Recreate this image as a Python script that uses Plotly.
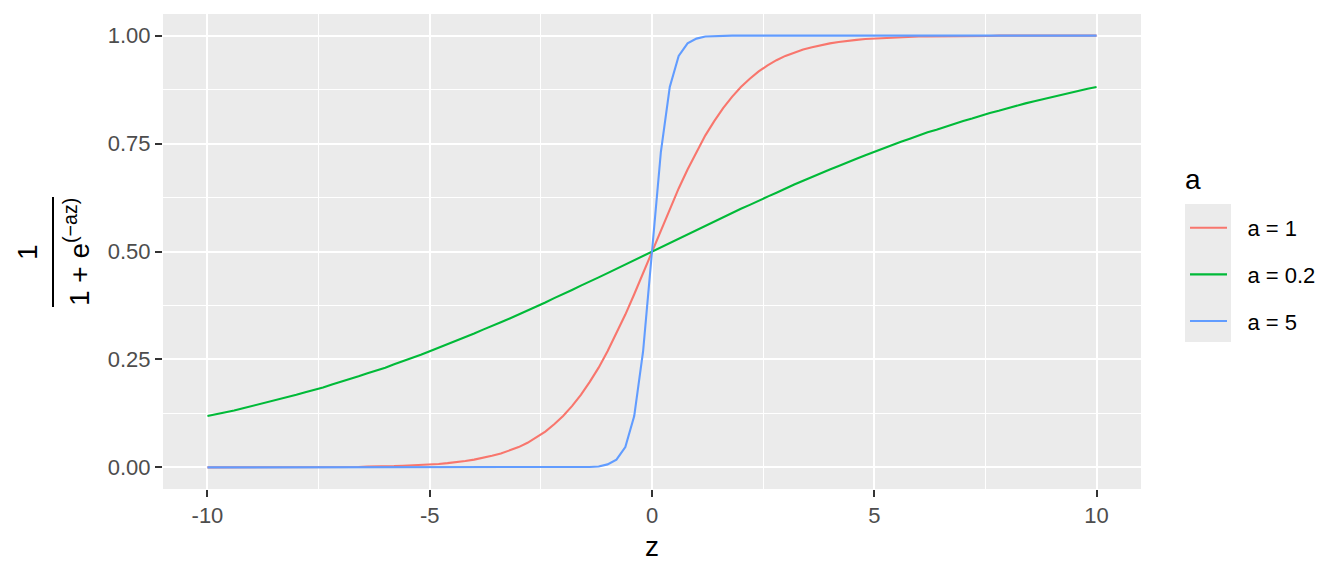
import plotly.graph_objects as go

# z grid (101 points, -10 .. 10, step 0.2)
z = [-10.0, -9.8, -9.6, -9.4, -9.2, -9.0, -8.8, -8.6, -8.4, -8.2,
     -8.0, -7.8, -7.6, -7.4, -7.2, -7.0, -6.8, -6.6, -6.4, -6.2,
     -6.0, -5.8, -5.6, -5.4, -5.2, -5.0, -4.8, -4.6, -4.4, -4.2,
     -4.0, -3.8, -3.6, -3.4, -3.2, -3.0, -2.8, -2.6, -2.4, -2.2,
     -2.0, -1.8, -1.6, -1.4, -1.2, -1.0, -0.8, -0.6, -0.4, -0.2,
     0.0,
     0.2, 0.4, 0.6, 0.8, 1.0, 1.2, 1.4, 1.6, 1.8, 2.0,
     2.2, 2.4, 2.6, 2.8, 3.0, 3.2, 3.4, 3.6, 3.8, 4.0,
     4.2, 4.4, 4.6, 4.8, 5.0, 5.2, 5.4, 5.6, 5.8, 6.0,
     6.2, 6.4, 6.6, 6.8, 7.0, 7.2, 7.4, 7.6, 7.8, 8.0,
     8.2, 8.4, 8.6, 8.8, 9.0, 9.2, 9.4, 9.6, 9.8, 10.0]

# a = 1
y_a1 = [0.000, 0.000, 0.000, 0.000, 0.000, 0.000, 0.000, 0.000, 0.000, 0.000,
        0.000, 0.000, 0.001, 0.001, 0.001, 0.001, 0.001, 0.001, 0.002, 0.002,
        0.002, 0.003, 0.004, 0.005, 0.005, 0.007, 0.008, 0.010, 0.012, 0.015,
        0.018, 0.022, 0.027, 0.032, 0.039, 0.047, 0.057, 0.069, 0.083, 0.100,
        0.119, 0.142, 0.168, 0.198, 0.231, 0.269, 0.310, 0.354, 0.401, 0.450,
        0.500,
        0.550, 0.599, 0.646, 0.690, 0.731, 0.769, 0.802, 0.832, 0.858, 0.881,
        0.900, 0.917, 0.931, 0.943, 0.953, 0.961, 0.968, 0.973, 0.978, 0.982,
        0.985, 0.988, 0.990, 0.992, 0.993, 0.995, 0.995, 0.996, 0.997, 0.998,
        0.998, 0.998, 0.999, 0.999, 0.999, 0.999, 0.999, 0.999, 1.000, 1.000,
        1.000, 1.000, 1.000, 1.000, 1.000, 1.000, 1.000, 1.000, 1.000, 1.000]

# a = 0.2
y_a02 = [0.119, 0.123, 0.128, 0.132, 0.137, 0.142, 0.147, 0.152, 0.157, 0.162,
         0.168, 0.174, 0.179, 0.185, 0.192, 0.198, 0.204, 0.211, 0.218, 0.224,
         0.231, 0.239, 0.246, 0.254, 0.261, 0.269, 0.277, 0.285, 0.293, 0.302,
         0.310, 0.319, 0.327, 0.336, 0.345, 0.354, 0.364, 0.373, 0.382, 0.392,
         0.401, 0.411, 0.421, 0.430, 0.440, 0.450, 0.460, 0.470, 0.480, 0.490,
         0.500,
         0.510, 0.520, 0.530, 0.540, 0.550, 0.560, 0.570, 0.579, 0.589, 0.599,
         0.608, 0.618, 0.627, 0.636, 0.646, 0.655, 0.664, 0.673, 0.681, 0.690,
         0.698, 0.707, 0.715, 0.723, 0.731, 0.739, 0.746, 0.754, 0.761, 0.769,
         0.776, 0.782, 0.789, 0.796, 0.802, 0.808, 0.815, 0.821, 0.826, 0.832,
         0.838, 0.843, 0.848, 0.853, 0.858, 0.863, 0.868, 0.872, 0.877, 0.881]

# a = 5
y_a5 = [0.000, 0.000, 0.000, 0.000, 0.000, 0.000, 0.000, 0.000, 0.000, 0.000,
        0.000, 0.000, 0.000, 0.000, 0.000, 0.000, 0.000, 0.000, 0.000, 0.000,
        0.000, 0.000, 0.000, 0.000, 0.000, 0.000, 0.000, 0.000, 0.000, 0.000,
        0.000, 0.000, 0.000, 0.000, 0.000, 0.000, 0.000, 0.000, 0.000, 0.000,
        0.000, 0.000, 0.000, 0.001, 0.002, 0.007, 0.018, 0.047, 0.119, 0.269,
        0.500,
        0.731, 0.881, 0.953, 0.982, 0.993, 0.998, 0.999, 1.000, 1.000, 1.000,
        1.000, 1.000, 1.000, 1.000, 1.000, 1.000, 1.000, 1.000, 1.000, 1.000,
        1.000, 1.000, 1.000, 1.000, 1.000, 1.000, 1.000, 1.000, 1.000, 1.000,
        1.000, 1.000, 1.000, 1.000, 1.000, 1.000, 1.000, 1.000, 1.000, 1.000,
        1.000, 1.000, 1.000, 1.000, 1.000, 1.000, 1.000, 1.000, 1.000, 1.000]

series_names = ["a = 1", "a = 0.2", "a = 5"]
series_values = [y_a1, y_a02, y_a5]
series_colors = ["#F8766D", "#00BA38", "#619CFF"]
legend_title = "a"

x_ticks = [-10, -5, 0, 5, 10]
x_tick_labels = ["-10", "-5", "0", "5", "10"]
y_ticks = [0.0, 0.25, 0.5, 0.75, 1.0]
y_tick_labels = ["0.00", "0.25", "0.50", "0.75", "1.00"]

FONT = "Liberation Sans, Arial, sans-serif"
W, H = 1344, 576
ML, MR, MT, MB = 163, 203, 14, 87
PW, PH = W - ML - MR, H - MT - MB


def px_x(p):
    return (p - ML) / PW


def px_y(p):
    return (H - MB - p) / PH


fig = go.Figure()
for i, (name, vals, col) in enumerate(zip(series_names, series_values, series_colors)):
    fig.add_trace(go.Scatter(
        x=z, y=vals, mode="lines", name="\u2002\u2009" + name, legendgroup=f"g{i}",
        line=dict(color=col, width=2.1), hoverinfo="skip",
    ))

axis_common = dict(
    showgrid=True, gridcolor="white", gridwidth=2,
    zeroline=False, showline=False,
    ticks="outside", ticklen=7, tickwidth=2, tickcolor="#333333",
    tickfont=dict(family=FONT, size=22, color="#4D4D4D"),
)

fig.update_layout(
    width=W, height=H,
    margin=dict(l=ML, r=MR, t=MT, b=MB, autoexpand=False),
    paper_bgcolor="white", plot_bgcolor="#EBEBEB",
    font=dict(family=FONT, size=22, color="black"),
    xaxis=dict(
        range=[-11, 11], tickmode="array", tickvals=x_ticks, ticktext=x_tick_labels,
        minor=dict(tick0=0, dtick=2.5, showgrid=True, gridcolor="white", gridwidth=1),
        title=dict(text="z", font=dict(family=FONT, size=28, color="black"), standoff=8),
        **axis_common,
    ),
    yaxis=dict(
        range=[-0.05, 1.05], tickmode="array", tickvals=y_ticks, ticktext=y_tick_labels,
        minor=dict(tick0=0, dtick=0.125, showgrid=True, gridcolor="white", gridwidth=1),
        **axis_common,
    ),
    legend=dict(
        font=dict(family=FONT, size=22, color="black"),
        x=px_x(1185), y=px_y(207), xanchor="left", yanchor="top",
        bgcolor="rgba(0,0,0,0)", tracegroupgap=15, itemwidth=37,
    ),
    showlegend=True,
)

# legend title
fig.add_annotation(text=legend_title, xref="paper", yref="paper",
                   x=px_x(1183), y=px_y(180), xanchor="left", yanchor="middle",
                   showarrow=False, font=dict(family=FONT, size=28, color="black"))

# grey legend key background (ggplot style)
fig.add_shape(type="rect", xref="paper", yref="paper",
              x0=px_x(1185), x1=px_x(1231), y0=px_y(342), y1=px_y(204),
              fillcolor="#EBEBEB", line=dict(width=0), layer="below")

# y-axis title as a fraction: 1 / (1 + e^(-az))
fig.add_annotation(text="1", xref="paper", yref="paper", x=px_x(27), y=px_y(252),
                   xanchor="center", yanchor="middle", textangle=-90, showarrow=False,
                   font=dict(family=FONT, size=28, color="black"))
fig.add_shape(type="line", xref="paper", yref="paper",
              x0=px_x(53), x1=px_x(53), y0=px_y(307), y1=px_y(197),
              line=dict(color="black", width=2))
fig.add_annotation(text="1 + e<sup>(\u2212az)</sup>", xref="paper", yref="paper",
                   x=px_x(77), y=px_y(252),
                   xanchor="center", yanchor="middle", textangle=-90, showarrow=False,
                   font=dict(family=FONT, size=28, color="black"))

fig.write_html("out.html", config={"displayModeBar": False},
               post_script="document.body.style.margin='0px';")
